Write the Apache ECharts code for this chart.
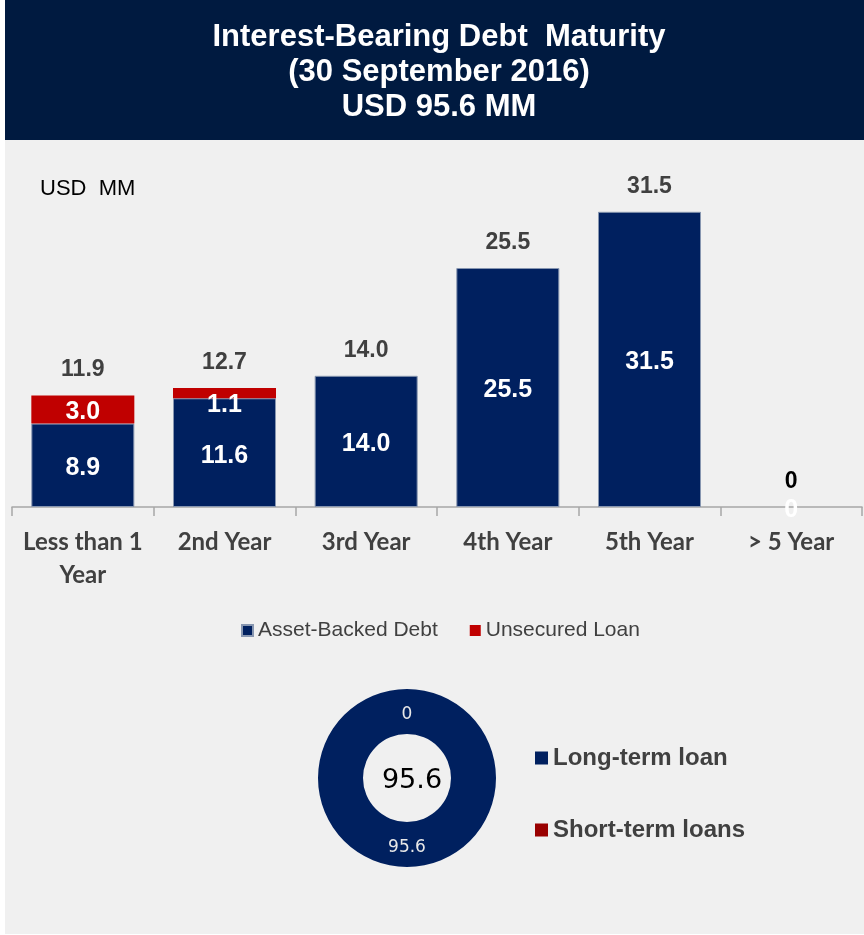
<!DOCTYPE html>
<html>
<head>
<meta charset="utf-8">
<script src="https://cdn.jsdelivr.net/npm/echarts@6/dist/echarts.min.js"></script>
<style>
  html, body { margin: 0; padding: 0; background: #ffffff; }
  #main { width: 864px; height: 935px; }
</style>
</head>
<body>
<div id="main"></div>
<script>
// 数据
var categories = ['Less than 1\nYear', '2nd Year', '3rd Year', '4th Year', '5th Year', '> 5 Year'];
var assetBacked = [8.9, 11.6, 14.0, 25.5, 31.5, 0];
var unsecured = [3.0, 1.1, null, null, null, null];
var totals = [11.9, 12.7, 14.0, 25.5, 31.5, 0];

var pieNames = ['Long-term loan', 'Short-term loans'];
var pieValues = [95.6, 0];
var pieTotal = 95.6;

var navy = '#00205f';
var red = '#c00000';

var myChart = echarts.init(document.getElementById('main'));

var assetData = assetBacked.map(function (v) {
    if (v === 0) {
        return { value: v, itemStyle: { borderWidth: 0 } };
    }
    return v;
});

var totalData = totals.map(function (v, i) {
    if (i === totals.length - 1) {
        return { value: v, label: { color: '#000000' } };
    }
    return v;
});

var unsecuredData = unsecured.map(function (v, i) {
    if (i === 1) {
        return { value: v, label: { offset: [0, 12] } };
    }
    return v;
});

var option = {
    backgroundColor: '#ffffff',
    animation: false,
    graphic: [{
        type: 'rect',
        z: -10,
        shape: { x: 5, y: 0, width: 859, height: 140 },
        style: { fill: '#001a40' }
    }, {
        type: 'rect',
        z: -10,
        shape: { x: 5, y: 140, width: 859, height: 794 },
        style: { fill: '#f0f0f0' }
    }],
    title: [{
        text: 'Interest-Bearing Debt  Maturity\n(30 September 2016)\nUSD 95.6 MM',
        left: 434,
        top: 15,
        textAlign: 'center',
        textStyle: {
            color: '#ffffff',
            fontSize: 31,
            fontWeight: 'bold',
            fontFamily: 'Liberation Sans',
            lineHeight: 35
        }
    }, {
        text: 'USD  MM',
        left: 35,
        top: 173,
        textStyle: {
            color: '#000000',
            fontSize: 22,
            fontWeight: 'normal',
            fontFamily: 'Liberation Sans'
        }
    }, {
        text: String(pieTotal),
        left: 407,
        top: 762,
        textAlign: 'center',
        textStyle: {
            color: '#000000',
            fontSize: 27,
            fontWeight: 'normal',
            fontFamily: 'DejaVu Sans'
        }
    }],
    legend: [{
        data: ['Asset-Backed Debt', 'Unsecured Loan'],
        left: 236,
        top: 615,
        icon: 'rect',
        itemWidth: 11,
        itemHeight: 11,
        itemGap: 32,
        textStyle: {
            color: '#404040',
            fontSize: 21,
            fontFamily: 'Liberation Sans'
        }
    }, {
        data: pieNames,
        orient: 'vertical',
        left: 530,
        top: 741,
        icon: 'rect',
        itemWidth: 13,
        itemHeight: 13,
        itemGap: 48,
        textStyle: {
            color: '#404040',
            fontSize: 24,
            fontWeight: 'bold',
            fontFamily: 'Liberation Sans'
        }
    }],
    grid: {
        left: 12,
        right: 2,
        top: 179,
        bottom: 428
    },
    xAxis: {
        type: 'category',
        data: categories,
        axisLine: { lineStyle: { color: '#a6a6a6', width: 1.5 } },
        axisTick: { show: true, length: 9, lineStyle: { color: '#a6a6a6', width: 1.5 } },
        axisLabel: {
            margin: 19,
            color: '#404040',
            fontSize: 24,
            fontWeight: 'bold',
            fontFamily: 'Lato',
            lineHeight: 33,
            interval: 0
        }
    },
    yAxis: {
        type: 'value',
        min: 0,
        max: 35,
        show: false,
        splitLine: { show: false }
    },
    series: [{
        name: 'Asset-Backed Debt',
        type: 'bar',
        stack: 'debt',
        barWidth: 103,
        data: assetData,
        itemStyle: { color: navy, borderColor: '#8796b0', borderWidth: 1 },
        label: {
            show: true,
            position: 'inside',
            offset: [0, 3],
            color: '#ffffff',
            fontSize: 25,
            fontWeight: 'bold',
            fontFamily: 'Liberation Sans',
            formatter: function (p) { return p.value === 0 ? '0' : p.value.toFixed(1); }
        }
    }, {
        name: 'Unsecured Loan',
        type: 'bar',
        stack: 'debt',
        barWidth: 103,
        data: unsecuredData,
        itemStyle: { color: red },
        label: {
            show: true,
            position: 'inside',
            offset: [0, 3],
            color: '#ffffff',
            fontSize: 25,
            fontWeight: 'bold',
            fontFamily: 'Liberation Sans',
            formatter: function (p) { return p.value.toFixed(1); }
        }
    }, {
        name: 'Total',
        type: 'bar',
        barWidth: 103,
        barGap: '-100%',
        data: totalData,
        itemStyle: { color: 'rgba(0,0,0,0)' },
        silent: true,
        label: {
            show: true,
            position: 'top',
            distance: 14,
            color: '#404040',
            fontSize: 23,
            fontWeight: 'bold',
            fontFamily: 'Liberation Sans',
            formatter: function (p) { return p.value === 0 ? '0' : p.value.toFixed(1); }
        }
    }, {
        name: 'Loans',
        type: 'pie',
        center: [407, 778],
        radius: [44, 89],
        startAngle: 90,
        clockwise: true,
        avoidLabelOverlap: false,
        data: [
            { name: pieNames[0], value: pieValues[0], itemStyle: { color: navy } },
            { name: pieNames[1], value: pieValues[1], itemStyle: { color: '#990000' }, label: { offset: [0, 6] } }
        ],
        label: {
            show: true,
            position: 'inside',
            color: '#e8e8e8',
            fontSize: 17,
            fontFamily: 'DejaVu Sans',
            formatter: '{c}'
        },
        labelLine: { show: false }
    }]
};

myChart.setOption(option);
</script>
</body>
</html>
